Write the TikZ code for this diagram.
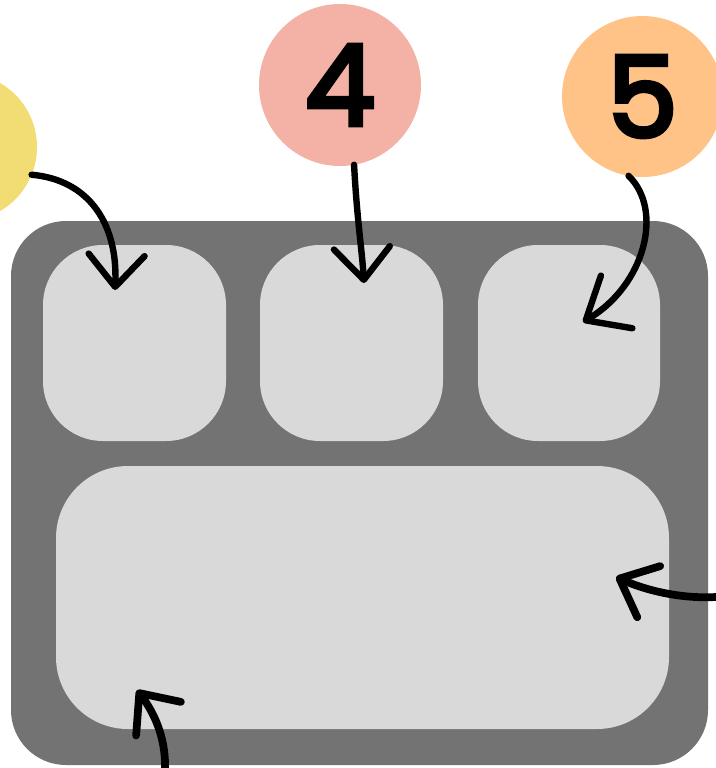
\documentclass[tikz,border=0pt]{standalone}
\usepackage{fontspec}
\newfontfamily\numfont[FakeBold=4]{Poppins}
\usetikzlibrary{arrows.meta}
\definecolor{cyellow}{RGB}{242,220,116}
\definecolor{cpink}{RGB}{244,177,166}
\definecolor{corange}{RGB}{255,195,135}
\definecolor{cdark}{RGB}{115,115,115}
\definecolor{clight}{RGB}{217,217,217}
\tikzset{
  panel/.style={fill=cdark, draw=none, rounded corners=41.25pt, inner sep=0pt, outer sep=0pt},
  slot/.style={fill=clight, draw=none, rounded corners=45pt, inner sep=0pt, outer sep=0pt,
    minimum width=137.25pt, minimum height=147pt},
  bigslot/.style={fill=clight, draw=none, rounded corners=54pt, inner sep=0pt, outer sep=0pt,
    minimum width=459.75pt, minimum height=197.25pt},
  badge/.style={circle, draw=none, inner sep=0pt, outer sep=0pt,
    font=\numfont\fontsize{84}{84}\selectfont},
  pointer/.style={line width=4.8pt, line cap=round, line join=round,
    -{Straight Barb[length=24pt, width=42pt, round]}},
}
\begin{document}
\begin{tikzpicture}[x=0.75pt, y=-0.75pt]
\useasboundingbox (0,0) rectangle (715,768);
\node[panel, minimum width=522.75pt, minimum height=408pt] (outer) at (359.5,493) {};
\node[slot] (s1) at (134.5,343) {};
\node[slot] (s2) at (351.5,343) {};
\node[slot, minimum width=136.5pt] (s3) at (569,343) {};
\node[bigslot] (big) at (362.5,597.5) {};
\node[badge, fill=cyellow, minimum size=111pt] (c3) at (-37,147) {};
\node[badge, fill=cpink, minimum size=121.5pt] (c4) at (340,85) {4};
\node[badge, fill=corange, minimum size=120.75pt] (c5) at (642.5,96.5) {5};
\coordinate (t1) at (115,290);
\coordinate (t2) at (364,283);
\coordinate (t3) at (583,322);
\coordinate (t4) at (616,577);
\coordinate (t5) at (137,690);
\coordinate (e4) at (716,597);
\coordinate (e5) at (165,769);
\draw[pointer] (c3.-22) .. controls (90,180) and (118,225) .. (t1);
\draw[pointer] (c4.-80) .. controls (357,220) and (362,250) .. (t2);
\draw[pointer, -{Straight Barb[length=27pt, width=46pt, round]}] (c5.-100) .. controls (664,210) and (645,285) .. (t3);
\draw[pointer, line width=5.8pt] (e4) .. controls (680,599) and (645,590) .. (t4);
\draw[pointer, line width=5.8pt] (e5) .. controls (166,735) and (152,710) .. (t5);
\end{tikzpicture}
\end{document}
